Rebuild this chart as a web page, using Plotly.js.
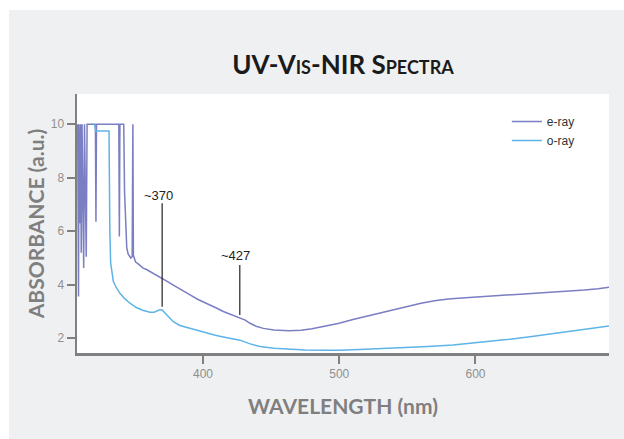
<!DOCTYPE html>
<html>
<head>
<meta charset="utf-8">
<script src="https://cdn.plot.ly/plotly-3.0.1.min.js"></script>
<style>
  html, body { margin: 0; padding: 0; background: #ffffff; width: 624px; height: 439px; overflow: hidden; }
  #chart { position: absolute; left: 9px; top: 10px; width: 615px; height: 429px; }
</style>
</head>
<body>
<div id="chart"></div>
<script>
// e-ray spectrum (wavelength nm, absorbance a.u.)
var eRayWl = [308.0, 308.6, 309.0, 309.6, 310.2, 310.6, 311.2, 311.8, 312.4, 313.0, 313.6, 314.3, 314.9, 316.5, 321.0, 321.4, 321.8,
  338.2, 338.6, 339.0, 341.8, 342.4, 343.2, 344.0, 345.0, 346.0, 347.0, 348.0, 348.5, 348.9, 349.6, 350.5, 352.0, 353.8,
  356.0, 358.5, 361.0, 364.0, 366.5, 368.4, 371.0, 374.0, 378.2, 384.0, 390.5, 396.0, 402.7, 409.0, 414.9, 421.0, 427.2,
  431.0, 434.5, 439.0, 444.3, 452.0, 463.0, 472.0, 480.0, 490.0, 500.0, 510.0, 520.0, 530.0, 540.0, 550.0, 560.0, 570.0,
  580.0, 590.0, 600.0, 610.0, 620.0, 630.0, 640.0, 650.0, 660.0, 670.0, 680.0, 690.0, 695.0, 698.0];
var eRayAbs = [10, 3.56, 10, 6.3, 10, 5.2, 10, 6.4, 4.63, 10, 7.3, 5.05, 10, 10, 10, 6.36, 10,
  10, 5.8, 10, 10, 7.5, 5.9, 5.4, 5.15, 5.05, 5.0, 5.05, 10, 5.1, 4.95, 4.85, 4.8, 4.72,
  4.62, 4.57, 4.5, 4.42, 4.36, 4.30, 4.22, 4.12, 3.99, 3.80, 3.62, 3.46, 3.31, 3.15, 3.00, 2.88, 2.78,
  2.68, 2.56, 2.45, 2.37, 2.31, 2.28, 2.30, 2.36, 2.45, 2.56, 2.70, 2.82, 2.93, 3.06, 3.19, 3.31, 3.40,
  3.47, 3.51, 3.55, 3.58, 3.61, 3.64, 3.67, 3.70, 3.73, 3.76, 3.80, 3.85, 3.89, 3.91];

// o-ray spectrum
var oRayWl = [320.5, 321.2, 331.0, 331.2, 331.6, 332.2, 333.2, 334.2, 336.5, 339.0, 342.5, 346.4, 351.0, 356.2, 361.0, 364.0,
  366.5, 368.4, 370.0, 373.3, 375.8, 378.2, 383.0, 390.5, 396.0, 402.7, 409.0, 414.9, 421.0, 427.2, 434.0, 441.9, 452.0,
  462.9, 475.0, 490.0, 500.0, 515.0, 530.0, 546.8, 565.0, 583.5, 600.0, 622.8, 640.0, 662.0, 680.0, 696.0, 698.0];
var oRayAbs = [10, 9.75, 9.75, 7.2, 6.0, 4.82, 4.4, 4.12, 3.88, 3.68, 3.48, 3.31, 3.15, 3.04, 2.97, 2.97,
  3.03, 3.07, 3.06, 2.87, 2.72, 2.62, 2.48, 2.37, 2.28, 2.18, 2.11, 2.05, 1.99, 1.93, 1.80, 1.69, 1.63,
  1.59, 1.56, 1.55, 1.55, 1.58, 1.61, 1.64, 1.69, 1.75, 1.83, 1.95, 2.06, 2.22, 2.34, 2.45, 2.46];

var seriesNames = ['e-ray', 'o-ray'];

// peak markers
var peakWl = [370, 427];
var peakLabels = ['~370', '~427'];
var peakLabelY = [7.35, 5.11];
var peakLineTop = [7.05, 4.74];
var peakLineBottom = [3.18, 2.87];

var xTicks = [400, 500, 600];
var yTicks = [2, 4, 6, 8, 10];

var traces = [
  { x: eRayWl, y: eRayAbs, name: seriesNames[0], type: 'scatter', mode: 'lines',
    line: { color: '#7a7ec2', width: 1.5 } },
  { x: oRayWl, y: oRayAbs, name: seriesNames[1], type: 'scatter', mode: 'lines',
    line: { color: '#5db4e6', width: 1.5 } }
];

var shapes = peakWl.map(function (w, i) {
  return { type: 'line', xref: 'x', yref: 'y', x0: w, x1: w, y0: peakLineBottom[i], y1: peakLineTop[i],
    line: { color: '#222222', width: 1.2 } };
});
var annotations = peakWl.map(function (w, i) {
  return { x: w, y: peakLabelY[i], xref: 'x', yref: 'y', text: peakLabels[i], showarrow: false,
    xshift: -4, font: { family: 'Liberation Sans, Arial, sans-serif', size: 13, color: '#222222' } };
});

var axisFont = { family: 'Lato, sans-serif', size: 21, color: '#7f7f7f', weight: 'bold' };
var layout = {
  width: 615, height: 429,
  paper_bgcolor: '#eff0f2', plot_bgcolor: '#ffffff',
  margin: { l: 68, r: 15, t: 84, b: 86 },
  title: { text: 'UV-Vis-NIR Spectra', x: 0.5, xref: 'paper', xanchor: 'center',
    y: 0.872, yref: 'container', yanchor: 'middle',
    font: { family: 'Lato, sans-serif', size: 26, color: '#1a1a1a', weight: 'bold', variant: 'small-caps' } },
  xaxis: {
    range: [307.5, 698], tickvals: xTicks, ticktext: xTicks.map(String),
    showgrid: false, zeroline: false, showline: true, linecolor: '#808080', linewidth: 2.5,
    ticks: 'outside', ticklen: 8, tickwidth: 2, tickcolor: '#808080',
    tickfont: { family: 'Liberation Sans, Arial, sans-serif', size: 12, color: '#8f8f8f' },
    title: { text: 'WAVELENGTH (nm)', font: axisFont, standoff: 20 }
  },
  yaxis: {
    range: [1.45, 11.13], tickvals: yTicks, ticktext: yTicks.map(String),
    showgrid: false, zeroline: false, showline: true, linecolor: '#808080', linewidth: 2.5,
    ticks: 'outside', ticklen: 8, tickwidth: 2, tickcolor: '#808080',
    tickfont: { family: 'Liberation Sans, Arial, sans-serif', size: 12, color: '#8f8f8f' },
    title: { text: 'ABSORBANCE (a.u.)', font: axisFont, standoff: 1 }
  },
  legend: { x: 0.808, y: 0.95, xanchor: 'left', yanchor: 'top', bgcolor: 'rgba(0,0,0,0)',
    font: { family: 'Liberation Sans, Arial, sans-serif', size: 12, color: '#333333' },
    itemwidth: 30, tracegroupgap: 0 },
  shapes: shapes,
  annotations: annotations,
  showlegend: true
};

Plotly.newPlot('chart', traces, layout, { displayModeBar: false, staticPlot: true });
</script>
</body>
</html>
